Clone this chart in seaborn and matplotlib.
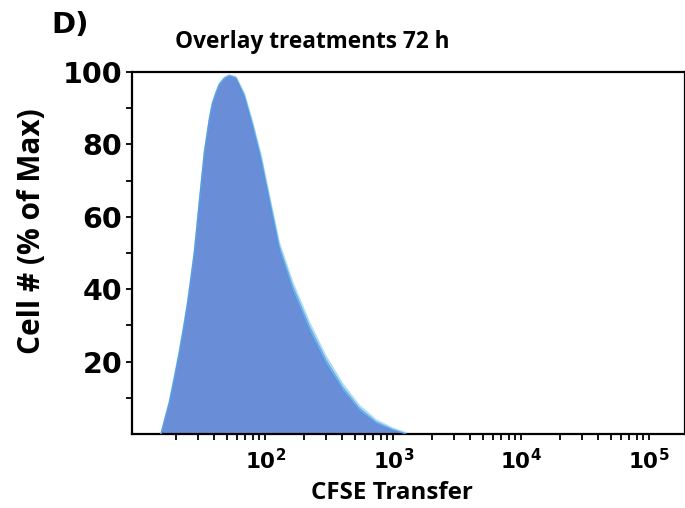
import numpy as np
import pandas as pd
import matplotlib
matplotlib.use("Agg")
import matplotlib.pyplot as plt
import seaborn as sns
from matplotlib.ticker import LogLocator, FixedLocator, NullFormatter

# CFSE intensity bins (shared by all treatments)
cfse = [15.3, 16.2, 17.8, 19.4, 21.3, 22.9, 24.7, 26.4, 27.9, 30.5, 33.4,
        36.5, 38.5, 41.2, 43.7, 47.9, 52.3, 59, 68.5, 79.5, 92.5, 107.5,
        128.6, 163, 221, 298, 402, 542, 732, 988, 1254]

# Cell counts as % of max for each treatment
treat_a = [0, 3.3, 8.6, 15, 22.4, 28.8, 36, 43.5, 50, 63.8, 77.6,
           86.7, 91, 94.2, 96.5, 98.3, 99, 98.3, 93.2, 84.9, 75.5, 64.2,
           50.8, 39.8, 28.7, 19.5, 12.2, 6.6, 3.0, 1.1, 0]
treat_b = [0, 3.6, 9.2, 15.8, 23.2, 29.6, 36.8, 44.3, 50.8, 64.5, 78.2,
           87.2, 91.5, 94.6, 96.8, 98.5, 99.2, 98.7, 94.2, 86.4, 77.3, 66.2,
           53.0, 42.2, 31.0, 21.6, 14.0, 8.0, 4.0, 1.7, 0.4]
treat_c = [0, 3.4, 8.8, 15.3, 22.7, 29.1, 36.3, 43.8, 50.3, 64.1, 77.9,
           87.0, 91.3, 94.4, 96.7, 98.4, 99.1, 98.5, 93.7, 85.6, 76.4, 65.2,
           51.9, 41.0, 29.8, 20.5, 13.0, 7.2, 3.4, 1.3, 0.1]
treat_d = [0, 3.2, 8.5, 14.8, 22.2, 28.6, 35.8, 43.3, 49.8, 63.6, 77.4,
           86.5, 90.8, 94.0, 96.3, 98.1, 98.8, 98.1, 93.0, 84.6, 75.2, 63.9,
           50.5, 39.5, 28.4, 19.2, 12.0, 6.4, 2.9, 1.0, 0]

x_major = [1e2, 1e3, 1e4, 1e5]
x_labels = [r"$\mathbf{10^{2}}$", r"$\mathbf{10^{3}}$", r"$\mathbf{10^{4}}$", r"$\mathbf{10^{5}}$"]
y_major = [20, 40, 60, 80, 100]

series = [
    ("B", treat_b, "#b7e2f3", "#a2d8f0"),
    ("C", treat_c, "#7eb0ea", "#5fa6e6"),
    ("D", treat_d, "#6a8dd8", "#4f94e0"),
    ("A", treat_a, "#6a8dd8", "#6a8dd8"),
]

df = pd.concat(
    [pd.DataFrame({"cfse": cfse, "pct": vals, "treatment": name})
     for name, vals, _, _ in series],
    ignore_index=True,
)

sns.set_style("white")
plt.rcParams["text.color"] = "black"
fig = plt.figure(figsize=(6.85, 5.08), dpi=100)
ax = fig.add_axes([132 / 685, 1 - 434 / 508, 553 / 685, 362 / 508])

# filled histograms, outermost first
for name, vals, fill_c, _ in series:
    ax.fill_between(cfse, 0, vals, color=fill_c, linewidth=0, zorder=2)

# outlines on top of the fills
for name, vals, _, edge_c in series[:3]:
    sns.lineplot(data=df[df["treatment"] == name], x="cfse", y="pct",
                 color=edge_c, linewidth=0.8, alpha=0.8, ax=ax, zorder=3,
                 legend=False, sort=False)

ax.set_xscale("log")
ax.set_xlim(9.1, 1.9e5)
ax.set_ylim(0, 100)

ax.xaxis.set_major_locator(FixedLocator(x_major))
ax.set_xticklabels(x_labels)
ax.xaxis.set_minor_locator(LogLocator(base=10, subs=np.arange(2, 10)))
ax.xaxis.set_minor_formatter(NullFormatter())

ax.yaxis.set_major_locator(FixedLocator(y_major))
ax.yaxis.set_minor_locator(FixedLocator([10, 30, 50, 70, 90]))
ax.set_yticklabels([str(v) for v in y_major])

ax.tick_params(axis="both", which="both", direction="out", length=4,
               width=1.3, color="black", labelcolor="black",
               bottom=True, left=True)
ax.tick_params(axis="y", which="major", labelsize=20.5, pad=3)
ax.tick_params(axis="x", which="major", labelsize=15.5, pad=6)
for lab in ax.get_yticklabels() + ax.get_xticklabels():
    lab.set_fontweight("bold")
    lab.set_family("DejaVu Sans")
    lab.set_color("black")

for side in ["left", "right", "top", "bottom"]:
    ax.spines[side].set_visible(True)
    ax.spines[side].set_color("black")
    ax.spines[side].set_linewidth(1.6)

ax.set_xlabel("")
ax.set_ylabel("")

label_font = dict(family="Open Sans", fontweight="bold", color="black")
fig.text(392 / 685, 1 - 493 / 508, "CFSE Transfer", fontsize=17.4,
         ha="center", va="center", **label_font)
fig.text(32 / 685, 1 - 231 / 508, "Cell # (% of Max)", fontsize=21.5,
         ha="center", va="center", rotation=90, **label_font)
fig.text(312 / 685, 1 - 42 / 508, "Overlay treatments 72 h", fontsize=16.3,
         ha="center", va="center", **label_font)
fig.text(70 / 685, 1 - 25 / 508, "D)", fontsize=21, family="DejaVu Sans",
         fontweight="bold", color="black", ha="center", va="center")

fig.savefig("out.png", dpi=100)
